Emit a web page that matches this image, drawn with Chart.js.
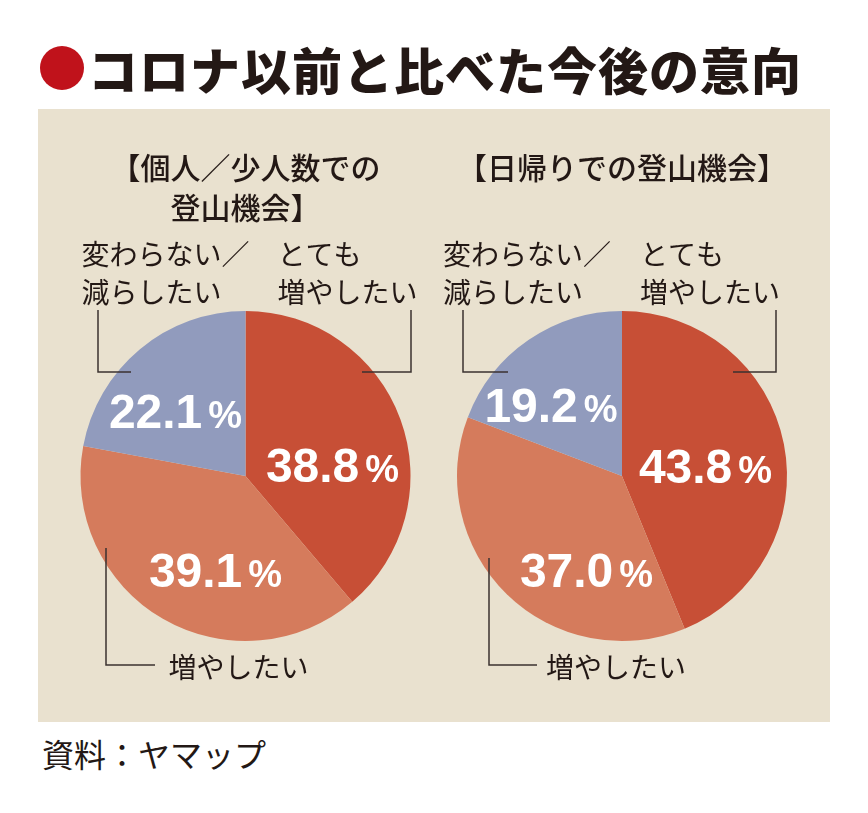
<!DOCTYPE html>
<html lang="ja">
<head>
<meta charset="utf-8">
<script src="https://cdn.jsdelivr.net/npm/chart.js@4"></script>
<style>
body { margin:0; background:#fff; width:868px; height:813px; position:relative; overflow:hidden;
       font-family:"Noto Sans CJK JP", sans-serif; color:#231815; }
#title { position:absolute; left:40px; top:40px; height:56px; display:flex; align-items:center; }
#dot { width:44px; height:44px; border-radius:50%; background:#c0121b; margin-right:4px; }
#title span { font-size:50px; font-weight:900; letter-spacing:1px; line-height:1; }
#panel { position:absolute; left:38px; top:109px; width:792px; height:613px; background:#e9e1cf; }
#panel canvas { position:absolute; top:0; }
#source { position:absolute; left:42px; top:733px; font-size:32px; line-height:40px; }
</style>
</head>
<body>
<div id="title"><div id="dot"></div><span>コロナ以前と比べた今後の意向</span></div>
<div id="panel">
  <canvas id="soloChart" width="396" height="613" style="left:0"></canvas>
  <canvas id="dayChart" width="396" height="613" style="left:396px"></canvas>
</div>
<div id="source">資料：ヤマップ</div>
<script>
// categories, clockwise from 12 o'clock
const categories = [['とても', '増やしたい'], ['増やしたい'], ['変わらない／', '減らしたい']];
const soloHeading = ['【個人／少人数での', '登山機会】'];
const dayHeading = ['【日帰りでの登山機会】'];
const soloValues = [38.8, 39.1, 22.1];
const dayValues = [43.8, 37.0, 19.2];
const sliceColors = ['#c74f36', '#d57b5c', '#919bbd'];

// text plugin: headings, category names, leader lines and value labels
const sliceText = {
  id: 'sliceText',
  afterDatasetsDraw(chart, args, opts) {
    const ctx = chart.ctx;
    const arcs = chart.getDatasetMeta(0).data;
    const cx = arcs[0].x, cy = arcs[0].y;
    const values = chart.data.datasets[0].data;
    ctx.save();

    ctx.strokeStyle = '#3b3230';
    ctx.lineWidth = 1.5;
    opts.leaders.forEach(pts => {
      ctx.beginPath();
      pts.forEach((p, i) => i ? ctx.lineTo(cx + p[0], cy + p[1]) : ctx.moveTo(cx + p[0], cy + p[1]));
      ctx.stroke();
    });

    ctx.fillStyle = '#231815';
    ctx.textBaseline = 'middle';
    ctx.textAlign = 'center';
    ctx.font = '500 30px "Noto Sans CJK JP"';
    opts.heading.forEach((t, i) => ctx.fillText(t, cx, cy + opts.headingY + i * 40));

    ctx.textAlign = 'left';
    ctx.font = '400 28px "Noto Sans CJK JP"';
    chart.data.labels.forEach((lines, k) => {
      const p = opts.namePos[k];
      lines.forEach((t, i) => ctx.fillText(t, cx + p[0], cy + p[1] + i * 38));
    });

    ctx.fillStyle = '#fff';
    ctx.textBaseline = 'alphabetic';
    values.forEach((v, k) => {
      const num = v.toFixed(1);
      const p = opts.valuePos[k];
      ctx.font = 'bold 48px "Liberation Sans"';
      const w1 = ctx.measureText(num).width;
      ctx.font = 'bold 38px "Liberation Sans"';
      const w2 = ctx.measureText('%').width;
      const x0 = cx + p[0] - (w1 + 6 + w2) / 2;
      ctx.font = 'bold 48px "Liberation Sans"';
      ctx.fillText(num, x0, cy + p[1]);
      ctx.font = 'bold 38px "Liberation Sans"';
      ctx.fillText('%', x0 + w1 + 6, cy + p[1]);
    });
    ctx.restore();
  }
};

function makePie(id, values, padding, textOpts) {
  return new Chart(document.getElementById(id), {
    type: 'pie',
    data: {
      labels: categories,
      datasets: [{ data: values, backgroundColor: sliceColors, borderWidth: 0 }]
    },
    options: {
      responsive: false,
      animation: false,
      radius: 165,
      layout: { padding: padding },
      plugins: {
        legend: { display: false },
        tooltip: { enabled: false },
        sliceText: textOpts
      }
    },
    plugins: [sliceText]
  });
}

makePie('soloChart', soloValues, { left: 30, right: 11, top: 150, bottom: 29 }, {
  heading: soloHeading,
  headingY: -308,
  namePos: [[32, -222], [-77, 191], [-164, -222]],
  valuePos: [[87, 6], [-30, 111], [-70, -48]],
  leaders: [
    [[165.5, -166], [165.5, -104], [116.5, -104]],
    [[-139.5, 72], [-139.5, 189], [-90.5, 189]],
    [[-147.5, -166], [-147.5, -104], [-114.5, -104]]
  ]
});

makePie('dayChart', dayValues, { left: 10, right: 30, top: 150, bottom: 29 }, {
  heading: dayHeading,
  headingY: -308,
  namePos: [[18, -222], [-76, 191], [-179, -222]],
  valuePos: [[83.5, 7], [-35.5, 111], [-71, -54]],
  leaders: [
    [[154, -166], [154, -104], [111, -104]],
    [[-133, 82], [-133, 189], [-85, 189]],
    [[-159, -166], [-159, -104], [-114, -104]]
  ]
});
</script>
</body>
</html>
